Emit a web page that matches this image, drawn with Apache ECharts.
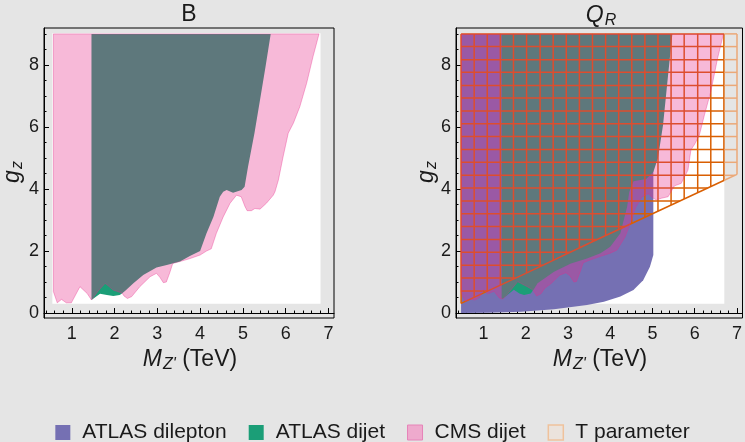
<!DOCTYPE html>
<html>
<head>
<meta charset="utf-8">
<title>Z' bounds</title>
<script src="https://cdn.jsdelivr.net/npm/echarts@6/dist/echarts.min.js"></script>
</head>
<body style="margin:0;padding:0;background:#e5e5e5;">
<div id="main" style="width:745px;height:442px;"></div>
<script type="text/javascript">
// tick labels
var xTicks = [1, 2, 3, 4, 5, 6, 7];
var yTicks = [0, 2, 4, 6, 8];

// panel B : white plot box, CMS dijet, ATLAS dijet
var plotBoxB = [[0.545, 0.3], [6.815, 9.02]];
var cmsDijetB = [
    [0.57, 9.0], [6.78, 9.0], [6.64, 8.27], [6.49, 7.41], [6.33, 6.65], [6.18, 6.12], [6.06, 5.8],
    [5.94, 5.04], [5.83, 4.29], [5.75, 3.91], [5.71, 3.8], [5.55, 3.54], [5.4, 3.35], [5.28, 3.37],
    [5.2, 3.3], [5.1, 3.3], [5.05, 3.43], [4.96, 3.75], [4.85, 3.8], [4.7, 3.54], [4.54, 3.1],
    [4.38, 2.57], [4.26, 2.07], [4.15, 2.0], [4.0, 1.87], [3.75, 1.75], [3.5, 1.65], [3.36, 1.6],
    [3.29, 1.3], [3.21, 1.0], [3.14, 0.98], [3.06, 1.15], [2.98, 1.28], [2.83, 1.17], [2.59, 0.85],
    [2.4, 0.53], [2.3, 0.47], [2.22, 0.55], [2.18, 0.64], [1.97, 0.74], [1.78, 0.96], [1.62, 0.72],
    [1.46, 0.42], [1.36, 0.63], [1.19, 0.85], [0.99, 0.33], [0.87, 0.33], [0.76, 0.44], [0.66, 0.33],
    [0.57, 0.69]
];
var atlasDijetB = [
    [1.46, 9.0], [5.65, 9.0], [5.53, 7.95], [5.4, 6.87], [5.27, 5.8], [5.12, 4.72], [5.04, 4.07],
    [4.97, 3.97], [4.77, 3.88], [4.62, 3.97], [4.54, 3.91], [4.46, 3.75], [4.31, 3.1], [4.15, 2.57],
    [4.0, 2.0], [3.76, 1.84], [3.53, 1.66], [3.22, 1.55], [2.98, 1.47], [2.67, 1.23], [2.44, 0.96],
    [2.25, 0.72], [2.18, 0.64], [2.12, 0.58], [1.97, 0.55], [1.82, 0.58], [1.66, 0.62], [1.46, 0.42]
];

// panel Q_R : white plot box, ATLAS dilepton, ATLAS dijet, CMS dijet, T parameter
var plotBoxQ = [[0.47, 0.3], [6.7, 9.02]];
var atlasDileptonQ = [
    [0.47, 9.0], [4.8, 9.0], [5.02, 4.5], [5.02, 1.87], [4.94, 1.49], [4.78, 1.06], [4.55, 0.74],
    [4.24, 0.53], [3.85, 0.36], [3.45, 0.26], [2.67, 0.12], [1.89, 0.04], [1.11, 0.01], [0.47, 0.0]
];
var atlasDijetQ = [
    [1.43, 9.0], [5.47, 9.0], [5.37, 7.68], [5.25, 6.06], [5.13, 5.0], [5.02, 4.55], [4.85, 4.32],
    [4.55, 4.25], [4.45, 3.9], [4.4, 3.43], [4.24, 2.57], [4.0, 2.14], [3.77, 1.93], [3.45, 1.76],
    [3.07, 1.6], [2.67, 1.33], [2.28, 0.96], [2.2, 0.78], [2.12, 0.63], [1.96, 0.58], [1.85, 0.63],
    [1.72, 0.75], [1.58, 0.6], [1.46, 0.46], [1.43, 0.46]
];
var cmsDijetQ = [
    [0.47, 9.0], [6.68, 9.0], [6.54, 8.21], [6.38, 7.14], [6.23, 6.39], [6.11, 5.74], [6.0, 5.45],
    [5.91, 5.26], [5.84, 4.61], [5.68, 4.18], [5.52, 4.1], [5.37, 3.75], [5.21, 3.7], [5.09, 3.65],
    [5.02, 3.7], [4.9, 3.85], [4.75, 3.75], [4.6, 3.4], [4.45, 2.8], [4.35, 2.45], [4.16, 2.03],
    [4.0, 1.93], [3.75, 1.82], [3.5, 1.7], [3.36, 1.62], [3.28, 1.3], [3.2, 1.02], [3.14, 1.0],
    [3.05, 1.2], [2.95, 1.3], [2.8, 1.22], [2.6, 0.95], [2.45, 0.8], [2.36, 0.62], [2.26, 0.55],
    [2.17, 0.74], [2.05, 0.84], [1.81, 1.01], [1.58, 0.63], [1.46, 0.45], [1.38, 0.48], [1.25, 0.7],
    [1.1, 0.62], [1.0, 0.75], [0.9, 0.5], [0.8, 0.42], [0.68, 0.45], [0.57, 0.38], [0.5, 0.55],
    [0.47, 0.7]
];
var tLowerQ = [[0.47, 0.31], [2.0, 1.28], [3.5, 2.25], [5.0, 3.2], [7.0, 4.47]];
var tTopQ = 9.0;
var tMeshX = [0.78, 1.09, 1.40, 1.71, 2.02, 2.34, 2.65, 2.96, 3.27, 3.58, 3.89, 4.20, 4.51, 4.82,
              5.13, 5.44, 5.75, 6.07, 6.38, 6.69];
var tMeshY = [0.71, 1.13, 1.54, 1.96, 2.37, 2.79, 3.20, 3.61, 4.03, 4.44, 4.86, 5.27, 5.69, 6.10,
              6.51, 6.93, 7.34, 7.76, 8.17, 8.59];

var FONT = '"Liberation Sans", Arial, sans-serif';
var C_BLUE = '#7570b3', C_GREEN = '#1b9e77', C_PINK = 'rgba(231,41,138,0.33)',
    C_ORANGE = '#d95f02', C_ORANGE_LT = '#eba878';

var xMinor = [], yMinor = [];
for (var i = 2; i <= 35; i++) { if (i % 5 != 0) xMinor.push(i / 5); }
for (var j = 1; j <= 18; j++) { if (j % 4 != 0) yMinor.push(j / 2); }

var chart = echarts.init(document.getElementById('main'));

function boxSeries(box, idx) {
    return {
        type: 'custom', xAxisIndex: idx, yAxisIndex: idx, silent: true, clip: true,
        data: [[1, 1]],
        renderItem: function (params, api) {
            var a = api.coord(box[0]), b = api.coord(box[1]);
            return {type: 'rect', shape: {x: a[0], y: b[1], width: b[0] - a[0], height: a[1] - b[1]},
                style: {fill: '#ffffff'}};
        }
    };
}

function areaSeries(name, pts, idx, fill, stroke) {
    return {
        type: 'custom', name: name, xAxisIndex: idx, yAxisIndex: idx, silent: true, clip: true,
        data: [[1, 1]],
        itemStyle: {color: fill},
        renderItem: function (params, api) {
            return {
                type: 'polygon',
                shape: {points: pts.map(function (p) { return api.coord(p); })},
                style: {fill: fill, stroke: stroke || null, lineWidth: stroke ? 1 : 0}
            };
        }
    };
}

function yAt(line, x) {
    for (var k = 0; k < line.length - 1; k++) {
        var a = line[k], b = line[k + 1];
        if (x >= a[0] && x <= b[0]) return a[1] + (b[1] - a[1]) * (x - a[0]) / (b[0] - a[0]);
    }
    return line[line.length - 1][1];
}
function xAt(line, y) {
    for (var k = 0; k < line.length - 1; k++) {
        var a = line[k], b = line[k + 1];
        if (y >= a[1] && y <= b[1]) return a[0] + (b[0] - a[0]) * (y - a[1]) / (b[1] - a[1]);
    }
    return line[line.length - 1][0];
}

// T parameter: region outline + mesh, lighter where it runs past the white box
var tMeshSeries = {
    type: 'custom', name: 'T parameter', xAxisIndex: 1, yAxisIndex: 1, silent: true, clip: true,
    data: [[1, 1]],
    itemStyle: {color: C_ORANGE},
    renderItem: function (params, api) {
        var kids = [];
        var left = tLowerQ[0][0], right = tLowerQ[tLowerQ.length - 1][0], edge = plotBoxQ[1][0];
        function seg(p, q, col) {
            var a = api.coord(p), b = api.coord(q);
            kids.push({type: 'line', shape: {x1: a[0], y1: a[1], x2: b[0], y2: b[1]},
                style: {stroke: col, lineWidth: 1.5}});
        }
        function hseg(x0, x1, y) {
            if (x1 <= edge) { seg([x0, y], [x1, y], C_ORANGE); return; }
            seg([x0, y], [edge, y], C_ORANGE);
            seg([edge, y], [x1, y], C_ORANGE_LT);
        }
        tMeshX.forEach(function (x) {
            seg([x, yAt(tLowerQ, x)], [x, tTopQ], x > edge ? C_ORANGE_LT : C_ORANGE);
        });
        tMeshY.forEach(function (y) {
            hseg(left, y >= tLowerQ[tLowerQ.length - 1][1] ? right : xAt(tLowerQ, y), y);
        });
        seg([left, tLowerQ[0][1]], [left, tTopQ], C_ORANGE);
        hseg(left, right, tTopQ);
        seg([right, tLowerQ[tLowerQ.length - 1][1]], [right, tTopQ], C_ORANGE_LT);
        for (var k = 0; k < tLowerQ.length - 1; k++) {
            var a = tLowerQ[k], b = tLowerQ[k + 1];
            if (b[0] <= edge) seg(a, b, C_ORANGE);
            else {
                var ye = yAt(tLowerQ, edge);
                seg(a, [edge, ye], C_ORANGE);
                seg([edge, ye], b, C_ORANGE_LT);
            }
        }
        return {type: 'group', children: kids};
    }
};

function mainX(idx) {
    return {
        type: 'value', gridIndex: idx, min: 0.35, max: 7.13,
        axisLine: {show: true, lineStyle: {color: '#000', width: 1}},
        axisTick: {show: true, inside: true, length: 5, customValues: xTicks, lineStyle: {color: '#000'}},
        axisLabel: {customValues: xTicks, margin: 7, color: '#1a1a1a', fontSize: 18, fontFamily: FONT},
        splitLine: {show: false}
    };
}
function minorX(idx) {
    return {
        type: 'value', gridIndex: idx, min: 0.35, max: 7.13, position: 'bottom',
        axisLine: {show: false},
        axisTick: {show: true, inside: true, length: 2.5, customValues: xMinor, lineStyle: {color: '#000'}},
        axisLabel: {show: false}, splitLine: {show: false}
    };
}
function mainY(idx) {
    return {
        type: 'value', gridIndex: idx, min: -0.16, max: 9.19,
        axisLine: {show: true, lineStyle: {color: '#000', width: 1}},
        axisTick: {show: true, inside: true, length: 5, customValues: yTicks, lineStyle: {color: '#000'}},
        axisLabel: {customValues: yTicks, margin: 5, color: '#1a1a1a', fontSize: 18, fontFamily: FONT},
        splitLine: {show: false}
    };
}
function minorY(idx) {
    return {
        type: 'value', gridIndex: idx, min: -0.16, max: 9.19, position: 'left',
        axisLine: {show: false},
        axisTick: {show: true, inside: true, length: 2.5, customValues: yMinor, lineStyle: {color: '#000'}},
        axisLabel: {show: false}, splitLine: {show: false}
    };
}

var richIt = {
    i: {fontSize: 23, fontStyle: 'italic', fontFamily: FONT, fill: '#1a1a1a', lineHeight: 28},
    s: {fontSize: 16, fontStyle: 'italic', fontFamily: FONT, fill: '#1a1a1a', lineHeight: 16, padding: [10, 0, 0, 1]},
    n: {fontSize: 23, fontFamily: FONT, fill: '#1a1a1a', lineHeight: 28}
};

function label(x, y, text, rot) {
    return {type: 'text', x: x, y: y, rotation: rot || 0, silent: true,
        style: {text: text, rich: richIt, align: 'center', verticalAlign: 'middle'}};
}

var option = {
    backgroundColor: '#e5e5e5',
    animation: false,
    grid: [
        {left: 44, top: 28, width: 290, height: 290, show: true, borderColor: '#000', borderWidth: 1},
        {left: 456, top: 28, width: 290, height: 290, show: true, borderColor: '#000', borderWidth: 1}
    ],
    xAxis: [mainX(0), mainX(1), minorX(0), minorX(1)],
    yAxis: [mainY(0), mainY(1), minorY(0), minorY(1)],
    legend: {
        top: 417, left: 'center', itemWidth: 15, itemHeight: 15, itemGap: 22,
        selectedMode: false, icon: 'rect',
        textStyle: {fontSize: 21, fontFamily: FONT, color: '#1a1a1a', padding: [0, 0, 0, 7]},
        data: [
            {name: 'ATLAS dilepton', itemStyle: {color: C_BLUE, borderWidth: 0}},
            {name: 'ATLAS dijet', itemStyle: {color: C_GREEN, borderWidth: 0}},
            {name: 'CMS dijet', itemStyle: {color: '#eeaacd', borderColor: '#e684b8', borderWidth: 1}},
            {name: 'T parameter', itemStyle: {color: '#ebe3dc', borderColor: '#efc29c', borderWidth: 1.5}}
        ]
    },
    graphic: [
        label(189, 15, '{n|B}'),
        label(601, 16, '{i|Q}{s|R}'),
        label(190, 360, '{i|M}{s|Z\'}{n| (TeV)}'),
        label(600, 360, '{i|M}{s|Z\'}{n| (TeV)}'),
        label(13, 172, '{i|g}{s|z}', Math.PI / 2),
        label(427, 172, '{i|g}{s|z}', Math.PI / 2)
    ],
    series: [
        boxSeries(plotBoxB, 0),
        areaSeries('ATLAS dijet', atlasDijetB, 0, C_GREEN),
        areaSeries('CMS dijet', cmsDijetB, 0, C_PINK, 'rgba(231,41,138,0.35)'),
        boxSeries(plotBoxQ, 1),
        areaSeries('ATLAS dilepton', atlasDileptonQ, 1, C_BLUE),
        areaSeries('ATLAS dijet', atlasDijetQ, 1, C_GREEN),
        tMeshSeries,
        areaSeries('CMS dijet', cmsDijetQ, 1, C_PINK, 'rgba(231,41,138,0.35)')
    ]
};

chart.setOption(option);
</script>
</body>
</html>
